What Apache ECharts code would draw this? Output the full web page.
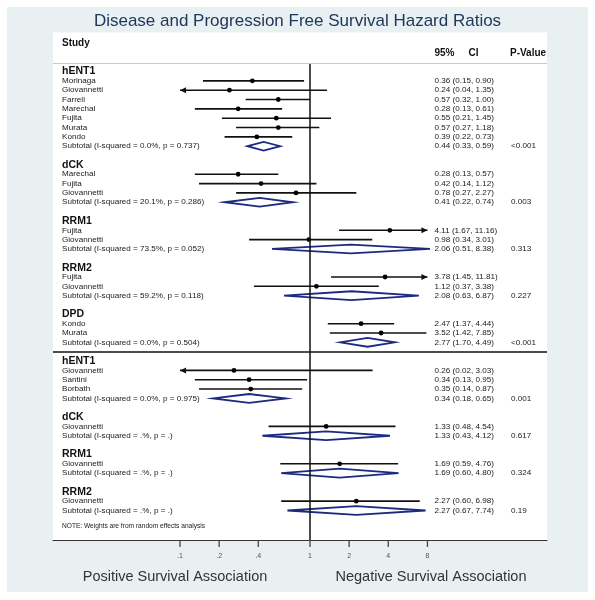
<!DOCTYPE html>
<html><head><meta charset="utf-8">
<script src="https://cdn.jsdelivr.net/npm/echarts/dist/echarts.min.js"></script>
<style>html,body{margin:0;padding:0;background:#fff}#c{width:595px;height:600px}</style>
</head><body><div id="c"></div>
<script>
// ---------------- data ----------------
const groupNames   = ['hENT1','dCK','RRM1','RRM2','DPD','hENT1','dCK','RRM1','RRM2'];
const groupSection = [1,1,1,1,1,2,2,2,2];
const studyNames = [
  ['Morinaga','Giovannetti','Farrell','Marechal','Fujita','Murata','Kondo'],
  ['Marechal','Fujita','Giovannetti'],
  ['Fujita','Giovannetti'],
  ['Fujita','Giovannetti'],
  ['Kondo','Murata'],
  ['Giovannetti','Santini','Borbath'],
  ['Giovannetti'],
  ['Giovannetti'],
  ['Giovannetti']
];
const studyHR = [[0.36,0.24,0.57,0.28,0.55,0.57,0.39],[0.28,0.42,0.78],[4.11,0.98],[3.78,1.12],[2.47,3.52],[0.26,0.34,0.35],[1.33],[1.69],[2.27]];
const studyLo = [[0.15,0.04,0.32,0.13,0.21,0.27,0.22],[0.13,0.14,0.27],[1.67,0.34],[1.45,0.37],[1.37,1.42],[0.02,0.13,0.14],[0.48],[0.59],[0.60]];
const studyHi = [[0.90,1.35,1.00,0.61,1.45,1.18,0.73],[0.57,1.12,2.27],[11.16,3.01],[11.81,3.38],[4.44,7.85],[3.03,0.95,0.87],[4.54],[4.76],[6.98]];
const subtotalI2   = ['0.0%','20.1%','73.5%','59.2%','0.0%','0.0%','.%','.%','.%'];
const subtotalHetP = ['0.737','0.286','0.052','0.118','0.504','0.975','.','.','.'];
const subtotalHR = [0.44,0.41,2.06,2.08,2.77,0.34,1.33,1.69,2.27];
const subtotalLo = [0.33,0.22,0.51,0.63,1.70,0.18,0.43,0.60,0.67];
const subtotalHi = [0.59,0.74,8.38,6.87,4.49,0.65,4.12,4.80,7.74];
const subtotalP  = ['<0.001','0.003','0.313','0.227','<0.001','0.001','0.617','0.324','0.19'];
const tickValues = [0.1,0.2,0.4,1,2,4,8];
const tickLabels = ['.1','.2','.4','1','2','4','8'];
const clipMin = 0.1, clipMax = 8;
const titleText = 'Disease and Progression Free Survival Hazard Ratios';
const noteText = 'NOTE: Weights are from random effects analysis';

// ---------------- build rows ----------------
const fmt = v => v.toFixed(2);
const textRows = [];
const ciData = [];
const diamondData = [];
let r = 0, sepRow = null, lastRow = 0;
groupNames.forEach((g, gi) => {
  if (gi > 0) {
    if (groupSection[gi] !== groupSection[gi-1]) sepRow = r;
    r++;
  }
  textRows.push({row: r, text: g, kind: 'group'});
  r++;
  studyNames[gi].forEach((s, si) => {
    const hr = studyHR[gi][si], lo = studyLo[gi][si], hi = studyHi[gi][si];
    textRows.push({row: r, text: s, kind: 'study', ci: fmt(hr)+' ('+fmt(lo)+', '+fmt(hi)+')'});
    ciData.push([r, lo, hi, hr]);
    r++;
  });
  textRows.push({row: r, text: 'Subtotal (I-squared = '+subtotalI2[gi]+', p = '+subtotalHetP[gi]+')', kind: 'study',
    ci: fmt(subtotalHR[gi])+' ('+fmt(subtotalLo[gi])+', '+fmt(subtotalHi[gi])+')', p: subtotalP[gi]});
  diamondData.push([r, subtotalLo[gi], subtotalHi[gi], subtotalHR[gi]]);
  lastRow = r;
  r++;
});
const noteRow = lastRow + 1.65;
const Y_MIN = -0.91, Y_MAX = lastRow + 3.16;

// ---------------- layout/style ----------------
const FONT = '"Liberation Sans", Arial, Helvetica, sans-serif';
const LABEL_X = 62, CI_X = 434.5, P_X = 511;
const NAVY = '#1c2a80';
const TXT = '#1a1a1a';

const chart = echarts.init(document.getElementById('c'), null, {renderer: 'canvas'});

function renderCI(params, api) {
  const row = api.value(0), lo = api.value(1), hi = api.value(2), hr = api.value(3);
  const a = api.coord([Math.max(lo, clipMin), row]);
  const b = api.coord([Math.min(hi, clipMax), row]);
  const c = api.coord([hr, row]);
  const ch = [{type: 'line', shape: {x1: a[0], y1: a[1], x2: b[0], y2: b[1]}, style: {stroke: '#111', lineWidth: 1.6}}];
  if (lo < clipMin) ch.push({type: 'polygon', shape: {points: [[a[0], a[1]], [a[0]+6, a[1]-3], [a[0]+6, a[1]+3]]}, style: {fill: '#111'}});
  if (hi > clipMax) ch.push({type: 'polygon', shape: {points: [[b[0], b[1]], [b[0]-6, b[1]-3], [b[0]-6, b[1]+3]]}, style: {fill: '#111'}});
  ch.push({type: 'circle', shape: {cx: c[0], cy: c[1], r: 2.4}, style: {fill: '#000'}});
  return {type: 'group', children: ch};
}
function renderDiamond(params, api) {
  const row = api.value(0), lo = api.value(1), hi = api.value(2), hr = api.value(3);
  const a = api.coord([lo, row]), b = api.coord([hi, row]), c = api.coord([hr, row]);
  const h = 4.4;
  return {type: 'polygon', shape: {points: [[a[0], a[1]], [c[0], c[1]-h], [b[0], b[1]], [c[0], c[1]+h]]},
    style: {fill: '#fff', stroke: NAVY, lineWidth: 1.8}};
}
function renderText(params, api) {
  const t = textRows[params.dataIndex];
  const y = api.coord([1, api.value(1)])[1];
  const ch = [];
  if (t.kind === 'group') {
    ch.push({type: 'text', style: {text: t.text, x: LABEL_X, y: y, fill: '#111', fontSize: 10.5, fontWeight: 'bold', fontFamily: FONT, align: 'left', verticalAlign: 'middle'}});
  } else {
    ch.push({type: 'text', style: {text: t.text, x: LABEL_X, y: y, fill: TXT, fontSize: 8.1, fontFamily: FONT, align: 'left', verticalAlign: 'middle'}});
    ch.push({type: 'text', style: {text: t.ci, x: CI_X, y: y, fill: TXT, fontSize: 8.1, fontFamily: FONT, align: 'left', verticalAlign: 'middle'}});
    if (t.p) ch.push({type: 'text', style: {text: t.p, x: P_X, y: y, fill: TXT, fontSize: 8.1, fontFamily: FONT, align: 'left', verticalAlign: 'middle'}});
  }
  return {type: 'group', children: ch};
}
function renderTick(params, api) {
  const p = api.coord([api.value(0), api.value(1)]);
  return {type: 'group', children: [
    {type: 'line', shape: {x1: p[0], y1: p[1], x2: p[0], y2: p[1]+7}, style: {stroke: '#444', lineWidth: 1.3}},
    {type: 'text', style: {text: tickLabels[params.dataIndex], x: p[0], y: p[1]+16, fill: '#555', fontSize: 7, fontFamily: FONT, align: 'center', verticalAlign: 'middle'}}
  ]};
}

const option = {
  backgroundColor: '#fff',
  animation: false,
  title: {text: titleText, left: 'center', top: 8,
    textStyle: {fontSize: 17, fontWeight: 'normal', color: '#22375c', fontFamily: FONT}},
  grid: {left: 53, right: 48, top: 63, bottom: 60, containLabel: false},
  xAxis: {type: 'log', logBase: 10, min: 0.01054, max: 66.5,
    axisLine: {show: true, onZero: false, lineStyle: {color: '#333', width: 1.2}},
    axisTick: {show: false}, axisLabel: {show: false}, splitLine: {show: false}},
  yAxis: {type: 'value', inverse: true, min: Y_MIN, max: Y_MAX, show: false, splitLine: {show: false}},
  graphic: [
    {type: 'rect', z: -20, shape: {x: 7, y: 7, width: 581, height: 585}, style: {fill: '#e8f0f2'}},
    {type: 'rect', z: -19, shape: {x: 53, y: 32.5, width: 494, height: 507.5}, style: {fill: '#fff'}},
    {type: 'text', z: 5, style: {text: 'Study', x: LABEL_X, y: 43, fill: '#111', fontSize: 10, fontWeight: 'bold', fontFamily: FONT, verticalAlign: 'middle'}},
    {type: 'text', z: 5, style: {text: '95%', x: CI_X, y: 53, fill: '#111', fontSize: 10, fontWeight: 'bold', fontFamily: FONT, verticalAlign: 'middle'}},
    {type: 'text', z: 5, style: {text: 'CI', x: 468.5, y: 53, fill: '#111', fontSize: 10, fontWeight: 'bold', fontFamily: FONT, verticalAlign: 'middle'}},
    {type: 'text', z: 5, style: {text: 'P-Value', x: 510, y: 53, fill: '#111', fontSize: 10, fontWeight: 'bold', fontFamily: FONT, verticalAlign: 'middle'}},
    {type: 'text', z: 5, style: {text: 'Positive Survival Association', x: 175, y: 577, fill: '#333', fontSize: 14.5, fontFamily: FONT, align: 'center', verticalAlign: 'middle'}},
    {type: 'text', z: 5, style: {text: 'Negative Survival Association', x: 431, y: 577, fill: '#333', fontSize: 14.5, fontFamily: FONT, align: 'center', verticalAlign: 'middle'}}
  ],
  series: [
    {type: 'custom', name: 'ci', renderItem: renderCI, data: ciData, encode: {x: [1,2,3], y: 0}, clip: false, z: 4,
      markLine: {silent: true, symbol: ['none','none'], label: {show: false},
        data: [
          {xAxis: 1, lineStyle: {color: '#111', width: 1.5, type: 'solid'}},
          {yAxis: sepRow, lineStyle: {color: '#111', width: 1.5, type: 'solid'}},
          {yAxis: Y_MIN, lineStyle: {color: '#c8c8c8', width: 1, type: 'solid'}}
        ]}},
    {type: 'custom', name: 'diamond', renderItem: renderDiamond, data: diamondData, encode: {x: [1,2,3], y: 0}, clip: false, z: 3},
    {type: 'custom', name: 'text', renderItem: renderText, data: textRows.map(t => [1, t.row]), encode: {x: 0, y: 1}, clip: false, z: 5},
    {type: 'custom', name: 'note', renderItem: function (params, api) {
        const y = api.coord([1, api.value(1)])[1];
        return {type: 'text', style: {text: noteText, x: LABEL_X, y: y, fill: TXT, fontSize: 6.6, fontFamily: FONT, verticalAlign: 'middle'}};
      }, data: [[1, noteRow]], encode: {x: 0, y: 1}, clip: false, z: 5},
    {type: 'custom', name: 'ticks', renderItem: renderTick, data: tickValues.map(v => [v, Y_MAX]), encode: {x: 0, y: 1}, clip: false, z: 5}
  ]
};
chart.setOption(option);
</script></body></html>
